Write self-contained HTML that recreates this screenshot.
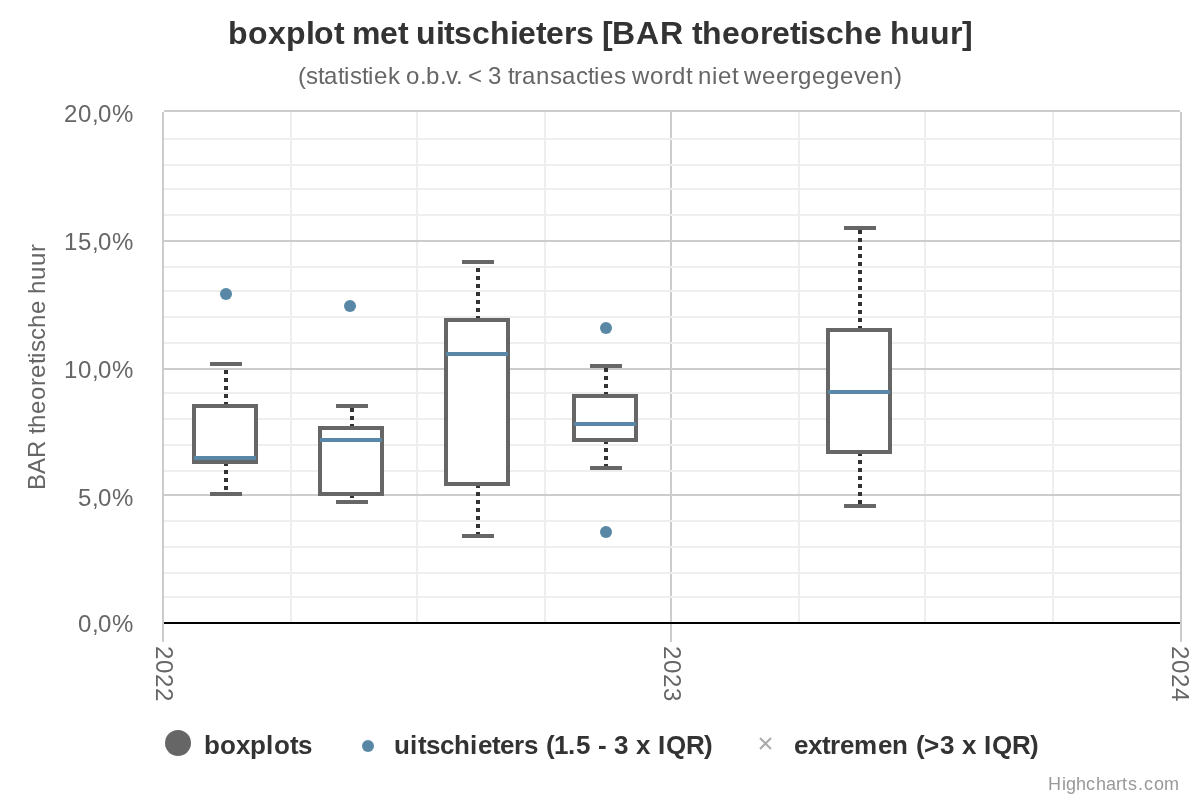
<!DOCTYPE html>
<html lang="nl"><head><meta charset="utf-8"><title>boxplot met uitschieters</title>
<style>
html,body{margin:0;padding:0;background:#fff;}
body{width:1200px;height:800px;overflow:hidden;font-family:"Liberation Sans",Arial,Helvetica,sans-serif;}
svg{display:block;}
text{font-family:"Liberation Sans",Arial,Helvetica,sans-serif;}
</style></head><body>
<svg width="1200" height="800" viewBox="0 0 1200 800">
<rect x="0" y="0" width="1200" height="800" fill="#ffffff"/>

<g>
<rect x="290" y="112" width="2" height="512" fill="#eeeeee"/>
<rect x="416" y="112" width="2" height="512" fill="#eeeeee"/>
<rect x="544" y="112" width="2" height="512" fill="#eeeeee"/>
<rect x="798" y="112" width="2" height="512" fill="#eeeeee"/>
<rect x="924" y="112" width="2" height="512" fill="#eeeeee"/>
<rect x="1052" y="112" width="2" height="512" fill="#eeeeee"/>
<rect x="162" y="112" width="2" height="530" fill="#cccccc"/>
<rect x="670" y="112" width="2" height="530" fill="#cccccc"/>
<rect x="1180" y="112" width="2" height="530" fill="#cccccc"/>
</g>
<g>
<rect x="164" y="138" width="1016" height="2" fill="#eeeeee"/>
<rect x="164" y="164" width="1016" height="2" fill="#eeeeee"/>
<rect x="164" y="188" width="1016" height="2" fill="#eeeeee"/>
<rect x="164" y="214" width="1016" height="2" fill="#eeeeee"/>
<rect x="164" y="266" width="1016" height="2" fill="#eeeeee"/>
<rect x="164" y="290" width="1016" height="2" fill="#eeeeee"/>
<rect x="164" y="316" width="1016" height="2" fill="#eeeeee"/>
<rect x="164" y="342" width="1016" height="2" fill="#eeeeee"/>
<rect x="164" y="392" width="1016" height="2" fill="#eeeeee"/>
<rect x="164" y="418" width="1016" height="2" fill="#eeeeee"/>
<rect x="164" y="444" width="1016" height="2" fill="#eeeeee"/>
<rect x="164" y="470" width="1016" height="2" fill="#eeeeee"/>
<rect x="164" y="520" width="1016" height="2" fill="#eeeeee"/>
<rect x="164" y="546" width="1016" height="2" fill="#eeeeee"/>
<rect x="164" y="572" width="1016" height="2" fill="#eeeeee"/>
<rect x="164" y="596" width="1016" height="2" fill="#eeeeee"/>
<rect x="164" y="110" width="1016" height="2" fill="#cccccc"/>
<rect x="164" y="240" width="1016" height="2" fill="#cccccc"/>
<rect x="164" y="368" width="1016" height="2" fill="#cccccc"/>
<rect x="164" y="494" width="1016" height="2" fill="#cccccc"/>
</g>
<rect x="164" y="622" width="1016" height="2" fill="#000000"/>
<g>
<path d="M226 406L226 364M226 462L226 494" stroke="#333333" stroke-width="4" stroke-dasharray="4,4" fill="none"/>
<rect x="194" y="406" width="62" height="56" fill="#ffffff" stroke="#666666" stroke-width="4"/>
<path d="M210 364L242 364M210 494L242 494" stroke="#666666" stroke-width="4" fill="none"/>
<path d="M194 458L256 458" stroke="#5888a5" stroke-width="4" fill="none"/>
<path d="M352 428L352 406M352 494L352 502" stroke="#333333" stroke-width="4" stroke-dasharray="4,4" fill="none"/>
<rect x="320" y="428" width="62" height="66" fill="#ffffff" stroke="#666666" stroke-width="4"/>
<path d="M336 406L368 406M336 502L368 502" stroke="#666666" stroke-width="4" fill="none"/>
<path d="M320 440L382 440" stroke="#5888a5" stroke-width="4" fill="none"/>
<path d="M478 320L478 262M478 484L478 536" stroke="#333333" stroke-width="4" stroke-dasharray="4,4" fill="none"/>
<rect x="446" y="320" width="62" height="164" fill="#ffffff" stroke="#666666" stroke-width="4"/>
<path d="M462 262L494 262M462 536L494 536" stroke="#666666" stroke-width="4" fill="none"/>
<path d="M446 354L508 354" stroke="#5888a5" stroke-width="4" fill="none"/>
<path d="M606 396L606 366M606 440L606 468" stroke="#333333" stroke-width="4" stroke-dasharray="4,4" fill="none"/>
<rect x="574" y="396" width="62" height="44" fill="#ffffff" stroke="#666666" stroke-width="4"/>
<path d="M590 366L622 366M590 468L622 468" stroke="#666666" stroke-width="4" fill="none"/>
<path d="M574 424L636 424" stroke="#5888a5" stroke-width="4" fill="none"/>
<path d="M860 330L860 228M860 452L860 506" stroke="#333333" stroke-width="4" stroke-dasharray="4,4" fill="none"/>
<rect x="828" y="330" width="62" height="122" fill="#ffffff" stroke="#666666" stroke-width="4"/>
<path d="M844 228L876 228M844 506L876 506" stroke="#666666" stroke-width="4" fill="none"/>
<path d="M828 392L890 392" stroke="#5888a5" stroke-width="4" fill="none"/>
</g>
<g>
<circle cx="226" cy="294" r="6" fill="#5888a5"/>
<circle cx="350" cy="306" r="6" fill="#5888a5"/>
<circle cx="606" cy="328" r="6" fill="#5888a5"/>
<circle cx="606" cy="532" r="6" fill="#5888a5"/>
</g>
<text x="228 248 268 286 306 314 334 344 352 380 398 408 416 436 444 454 472 490 510 518 536 546 564 576 594 602 612 636 660 684 692 702 722 740 760 772 790 800 808 826 844 864 882 890 910 930 950 962" y="44" font-size="32" font-weight="bold" fill="#333333">boxplot met uitschieters [BAR theoretische huur]</text>
<text x="298 306 318 324 338 344 350 362 368 374 388 400 406 420 426 440 446 456 462 468 482 488 502 508 514 522 536 550 562 576 588 594 600 614 626 632 650 664 672 686 692 698 712 718 732 738 744 762 776 790 798 812 826 840 854 866 880 894" y="84" font-size="24" fill="#666666">(statistiek o.b.v. &lt; 3 transacties wordt niet weergegeven)</text>
<text x="64 78 92 98 112" y="122" font-size="24" fill="#666666">20,0%</text>
<text x="64 78 92 98 112" y="250" font-size="24" fill="#666666">15,0%</text>
<text x="64 78 92 98 112" y="378" font-size="24" fill="#666666">10,0%</text>
<text x="78 92 98 112" y="506" font-size="24" fill="#666666">5,0%</text>
<text x="78 92 98 112" y="632" font-size="24" fill="#666666">0,0%</text>
<text transform="translate(45,490) rotate(-90)" x="0 16 32 50 56 62 76 90 104 112 126 132 138 150 162 176 190 196 210 224 238" y="0" font-size="24" fill="#666666">BAR theoretische huur</text>
<text transform="translate(156,646) rotate(90)" x="0 14 28 42" y="0" font-size="24" fill="#666666">2022</text>
<text transform="translate(664,646) rotate(90)" x="0 14 28 42" y="0" font-size="24" fill="#666666">2023</text>
<text transform="translate(1172,646) rotate(90)" x="0 14 28 42" y="0" font-size="24" fill="#666666">2024</text>
<circle cx="178" cy="743" r="13" fill="#666666"/>
<text x="204 220 236 250 266 274 290 298" y="753.5" font-size="26" font-weight="bold" fill="#333333">boxplots</text>
<circle cx="368" cy="746" r="6" fill="#5888a5"/>
<text x="394 410 418 426 440 454 470 478 492 500 514 524 538 546 554 568 576 590 598 606 614 628 636 650 658 666 686 704" y="753.5" font-size="26" font-weight="bold" fill="#333333">uitschieters (1.5 - 3 x IQR)</text>
<path d="M760 738L771 749M771 738L760 749" stroke="#aaaaaa" stroke-width="2" fill="none"/>
<text x="794 808 822 830 840 854 878 892 908 916 924 940 954 962 976 984 992 1012 1030" y="753.5" font-size="26" font-weight="bold" fill="#333333">extremen (&gt;3 x IQR)</text>
<text x="1048 1062 1066 1076 1086 1096 1106 1116 1122 1128 1138 1144 1154 1164" y="790" font-size="18" fill="#999999">Highcharts.com</text>
</svg>
</body></html>
